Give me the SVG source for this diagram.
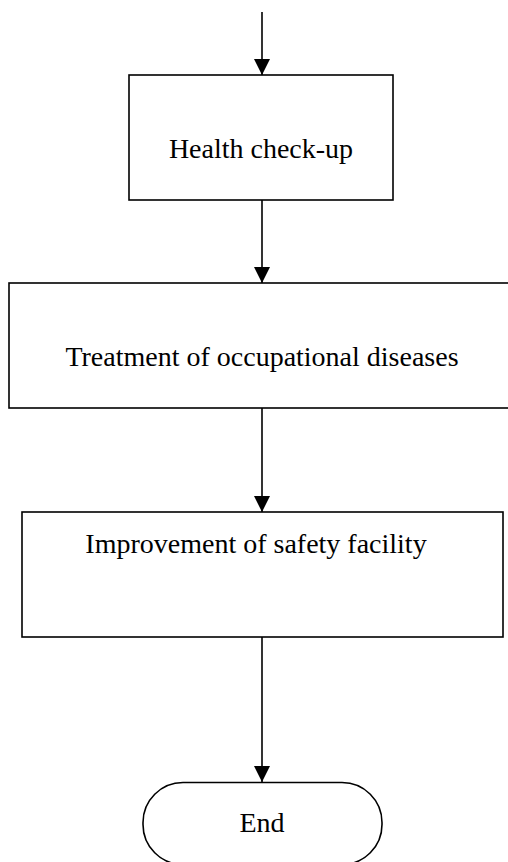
<svg xmlns="http://www.w3.org/2000/svg" width="508" height="862" viewBox="0 0 508 862">
<defs>
<style>
.box{fill:#fff;stroke:#000;stroke-width:1.6}
.conn{stroke:#000;stroke-width:1.6;fill:none}
.lbl{font-family:"Liberation Serif","Times New Roman",serif;font-size:28px;fill:#000;text-anchor:middle}
</style>
<marker id="ah" viewBox="0 0 16 16" refX="16" refY="8" markerWidth="16" markerHeight="16" markerUnits="userSpaceOnUse" orient="auto">
<path d="M0,0 L16,8 L0,16 Z" fill="#000"/>
</marker>
</defs>
<rect width="508" height="862" fill="#fff"/>
<g id="n1">
<rect class="box" x="129" y="75" width="264" height="125"/>
<text class="lbl" x="261" y="158">Health check-up</text>
</g>
<g id="n2">
<rect class="box" x="9" y="283" width="510" height="125"/>
<text class="lbl" x="262" y="366">Treatment of occupational diseases</text>
</g>
<g id="n3">
<rect class="box" x="22" y="512" width="481" height="125"/>
<text class="lbl" x="256" y="553">Improvement of safety facility</text>
</g>
<g id="n4">
<rect class="box" x="143" y="782.5" width="239" height="82" rx="40" ry="40"/>
<text class="lbl" x="262" y="832">End</text>
</g>
<g id="connectors">
<line class="conn" x1="262" y1="12" x2="262" y2="75" marker-end="url(#ah)"/>
<line class="conn" x1="262" y1="200" x2="262" y2="283" marker-end="url(#ah)"/>
<line class="conn" x1="262" y1="408" x2="262" y2="512" marker-end="url(#ah)"/>
<line class="conn" x1="262" y1="637" x2="262" y2="782" marker-end="url(#ah)"/>
</g>
</svg>
